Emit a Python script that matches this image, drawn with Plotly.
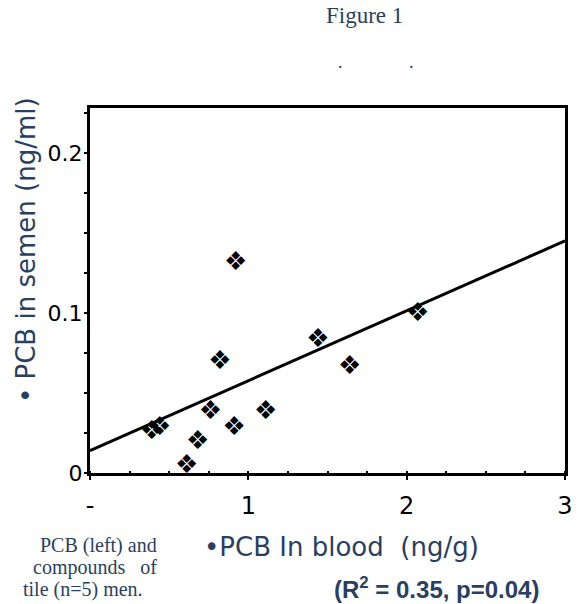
import plotly.graph_objects as go

# Data
pcb_blood = [0.39, 0.44, 0.61, 0.68, 0.76, 0.82, 0.91, 0.92, 1.11, 1.44, 1.64, 2.07]
pcb_semen = [0.025, 0.028, 0.004, 0.019, 0.038, 0.069, 0.028, 0.131, 0.038, 0.083, 0.066, 0.099]
fit_x = [0.0, 3.0]
fit_y = [0.014, 0.145]
x_tickvals = [0, 1, 2, 3]
x_ticktext = ["-", "1", "2", "3"]
y_tickvals = [0, 0.1, 0.2]
y_ticktext = ["0", "0.1", "0.2"]

W, H = 581, 604
L, R, T, B = 90, 8, 108, 131
PW, PH = W - L - R, H - T - B


def px(x):
    return (x - L) / PW


def py(y):
    return (H - B - y) / PH


fig = go.Figure()
fig.add_trace(go.Scatter(x=fit_x, y=fit_y, mode="lines",
                         line=dict(color="black", width=3), showlegend=False))
fig.add_trace(go.Scatter(x=pcb_blood, y=pcb_semen, mode="text", text=["❖"] * len(pcb_blood),
                         textposition="middle center",
                         textfont=dict(family="DejaVu Sans", size=26, color="black"),
                         showlegend=False))

sans = "DejaVu Sans"
serif = "Liberation Serif"
ann = [
    dict(text="Figure 1", x=px(369), y=py(16), font=dict(family=serif, size=23)),
    dict(text=".", x=px(345), y=py(62), font=dict(family=serif, size=18)),
    dict(text=".", x=px(417), y=py(62), font=dict(family=serif, size=18)),
    dict(text="• PCB in semen (ng/ml)", x=px(25), y=py(250), textangle=-90,
         font=dict(family=sans, size=26)),
    dict(text="•PCB In blood&nbsp; (ng/g)", x=px(346), y=py(547), font=dict(family=sans, size=26)),
    dict(text="<b>(R<sup>2</sup> = 0.35, p=0.04)</b>", x=px(442), y=py(588),
         font=dict(family="Liberation Sans", size=24)),
    dict(text="PCB (left) and", x=px(160), y=py(545), xanchor="right",
         font=dict(family=serif, size=20)),
    dict(text="compounds&nbsp;&nbsp; of", x=px(160), y=py(567), xanchor="right",
         font=dict(family=serif, size=20)),
    dict(text="tile (n=5) men.", x=px(20), y=py(589), xanchor="left",
         font=dict(family=serif, size=20)),
]
for a in ann:
    a.setdefault("xanchor", "center")
    a.update(xref="paper", yref="paper", yanchor="middle", showarrow=False)

fig.update_layout(
    width=W, height=H, margin=dict(l=L, r=R, t=T, b=B),
    paper_bgcolor="white", plot_bgcolor="white",
    annotations=ann,
    xaxis=dict(range=[0, 3], tickvals=x_tickvals, ticktext=x_ticktext,
               showgrid=False, zeroline=False, showline=True, linecolor="black",
               linewidth=3, mirror=True, ticks="outside", ticklen=4, tickwidth=2,
               tickcolor="black", ticklabelstandoff=5,
               tickfont=dict(family=sans, size=24, color="black"),
               minor=dict(dtick=0.25, ticks="inside", ticklen=2, tickcolor="black")),
    yaxis=dict(range=[0, 0.228], tickvals=y_tickvals, ticktext=y_ticktext,
               showgrid=False, zeroline=False, showline=True, linecolor="black",
               linewidth=3, mirror=True, ticks="", ticklen=0,
               tickfont=dict(family=sans, size=22, color="black"),
               minor=dict(dtick=0.025, ticks="outside", ticklen=3, tickwidth=2,
                          tickcolor="black")),
)

fig.write_html("out.html")
